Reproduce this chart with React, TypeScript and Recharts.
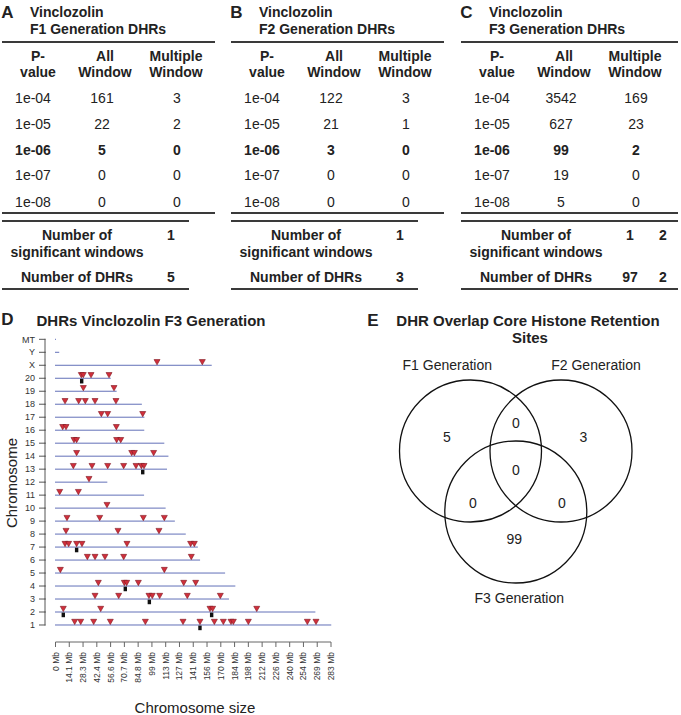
import React from 'react';
import { ScatterChart, Scatter, XAxis, YAxis, ReferenceLine } from 'recharts';

// ---- tables A-C ----
const pValues = ['1e-04', '1e-05', '1e-06', '1e-07', '1e-08'];
const f1All = [161, 22, 5, 0, 0];
const f1Multiple = [3, 2, 0, 0, 0];
const f2All = [122, 21, 3, 0, 0];
const f2Multiple = [3, 1, 0, 0, 0];
const f3All = [3542, 627, 99, 19, 5];
const f3Multiple = [169, 23, 2, 0, 0];
const f1SigWindows = [1];
const f2SigWindows = [1];
const f3SigWindows = [1, 2];
const f1Dhrs = [5];
const f2Dhrs = [3];
const f3Dhrs = [97, 2];

// ---- panel D ----
const chromosomes = ['1', '2', '3', '4', '5', '6', '7', '8', '9', '10', '11', '12', '13', '14', '15', '16', '17', '18', '19', '20', 'X', 'Y', 'MT'];
const chromosomeSizes = [282.76, 266.44, 177.7, 184.23, 173.71, 147.99, 145.73, 133.31, 122.1, 112.63, 90.46, 52.72, 114.03, 115.49, 111.25, 90.67, 90.84, 88.2, 62.28, 56.21, 159.97, 3.31, 0.016];
// DHR sites (Mb), one list per chromosome in the order above
const dhrPositions: number[][] = [
  [19.7, 25.9, 39.2, 56.3, 92.3, 131.0, 148.4, 163.2, 172.4, 180.3, 182.7, 198.1, 258.7, 267.6],
  [8.0, 46.4, 158.7, 161.4, 206.7],
  [40.6, 64.9, 96.0, 99.4, 107.0, 135.4, 169.3],
  [44.0, 70.7, 73.1, 85.1, 131.7, 144.0],
  [5.0, 111.8],
  [32.7, 40.6, 50.8, 70.0, 139.5],
  [9.8, 13.5, 21.7, 27.2, 73.4, 138.8, 142.6],
  [10.8, 64.2, 106.3],
  [11.8, 45.4, 90.2, 111.8],
  [52.9],
  [4.3, 23.5],
  [34.4],
  [18.3, 37.5, 53.6, 70.0, 82.7, 88.2, 90.9],
  [21.7, 78.3, 81.0, 100.8],
  [19.0, 21.7, 62.8, 67.0],
  [7.4, 10.8, 62.5],
  [47.1, 53.6, 89.6],
  [9.8, 23.8, 30.6, 40.6, 62.1],
  [28.6, 60.1],
  [26.5, 28.5, 36.5, 55.0],
  [104.3, 150.8],
  [],
  [],
];
// multiple-window DHRs: chromosome number, position (Mb)
const multiChrom = [20, 13, 7, 4, 3, 2, 2, 1];
const multiPos = [26.9, 89.6, 21.7, 71.7, 96.4, 8.0, 160.4, 148.4];
const xTicks = [0, 14.15, 28.3, 42.45, 56.6, 70.75, 84.9, 99.05, 113.2, 127.35, 141.5, 155.65, 169.8, 183.95, 198.1, 212.25, 226.4, 240.55, 254.7, 268.85, 283];
const xTickLabels = ['0 Mb', '14.1 Mb', '28.3 Mb', '42.4 Mb', '56.6 Mb', '70.7 Mb', '84.8 Mb', '99 Mb', '113 Mb', '127 Mb', '141 Mb', '156 Mb', '170 Mb', '184 Mb', '198 Mb', '212 Mb', '226 Mb', '240 Mb', '254 Mb', '269 Mb', '283 Mb'];
const yTicks = chromosomes.map((_, i) => i + 1);

// ---- panel E ----
const vennSets = ['F1 Generation', 'F2 Generation', 'F3 Generation'];
// F1 only, F2 only, F3 only, F1&F2, F1&F3, F2&F3, all three
const vennCounts = [5, 3, 99, 0, 0, 0, 0];

// venn layout (px offsets from diagram centre)
const circleCenters = [[-45.3, -20], [45.2, -20], [0, 41]];
const setLabelPos = [[-68.5, -106], [80.2, -106], [3.5, 127.3]];
const countPos = [[-69, -33.7], [67.5, -33.7], [-1.5, 68.3], [0.2, -47.7], [-43, 31.7], [46, 31.7], [0.2, -1]];
const vennRadius = 71;

const FONT = '"Liberation Sans", Arial, sans-serif';
const INK = '#222';
const ROW_PX = 302.7 / 23.31; // px between chromosome rows, matches the y domain below

function T({ x, y, children, bold = false, size = 14, anchor = 'middle', color = INK }: any) {
  const tx = anchor === 'middle' ? '-50%' : anchor === 'end' ? '-100%' : '0';
  return (
    <div style={{ position: 'absolute', left: x, top: y, transform: `translate(${tx}, -50%)`, fontSize: size, fontWeight: bold ? 700 : 400, lineHeight: 1, whiteSpace: 'nowrap', color }}>
      {children}
    </div>
  );
}

function Rule({ x, y, w }: any) {
  return <div style={{ position: 'absolute', left: x, top: y, width: w, height: 2, background: '#3a3a3a' }} />;
}

const rowY = [97.5, 123.5, 149.5, 175.3, 201.5];

function DhrTable({ x0, letter, gen, all, multi, sig, dhrs }: any) {
  const wide = sig.length > 1;
  const sumW = wide ? 217 : 187;
  return (
    <>
      <T x={x0 + 7.5} y={12} size={17} bold>{letter}</T>
      <T x={x0 + 30} y={12.3} anchor="start" bold>Vinclozolin</T>
      <T x={x0 + 30} y={29.3} anchor="start" bold>{gen} Generation DHRs</T>
      <Rule x={x0 + 2} y={40.7} w={wide ? 217 : 213} />
      <T x={x0 + 38} y={56} bold>P-</T>
      <T x={x0 + 38} y={71.7} bold>value</T>
      <T x={x0 + 105} y={56} bold>All</T>
      <T x={x0 + 105} y={71.7} bold>Window</T>
      <T x={x0 + 176} y={56} bold>Multiple</T>
      <T x={x0 + 176} y={71.7} bold>Window</T>
      {pValues.map((p, i) => (
        <React.Fragment key={p}>
          <T x={x0 + 33} y={rowY[i]} bold={i === 2}>{p}</T>
          <T x={x0 + 102} y={rowY[i]} bold={i === 2}>{all[i]}</T>
          <T x={x0 + 177} y={rowY[i]} bold={i === 2}>{multi[i]}</T>
        </React.Fragment>
      ))}
      <Rule x={x0 + 2} y={212.3} w={wide ? 217 : 213} />
      <Rule x={x0 + 2} y={220} w={sumW} />
      <T x={x0 + 77} y={235} bold>Number of</T>
      <T x={x0 + 77} y={251.7} bold>significant windows</T>
      {sig.map((v: number, i: number) => <T key={i} x={x0 + 171 + i * 33} y={235} bold>{v}</T>)}
      <T x={x0 + 77} y={277.3} bold>Number of DHRs</T>
      {dhrs.map((v: number, i: number) => <T key={i} x={x0 + 171 + i * 33} y={277.3} bold>{v}</T>)}
      <Rule x={x0 + 2} y={288.3} w={sumW} />
    </>
  );
}

const Triangle = (p: any) => (
  <path d={`M${p.cx - 3},${p.cy - 5.7}L${p.cx + 3},${p.cy - 5.7}L${p.cx},${p.cy - 0.4}Z`} fill="#d02f3b" stroke="#7d1520" strokeWidth={0.6} />
);
const Square = (p: any) => <rect x={p.cx - 1.7} y={p.cy + 0.6} width={3.4} height={4.6} fill="#111" />;

const renderXTick = (p: any) => {
  const ty = p.y + 3;
  return (
    <text x={p.x} y={ty} dy={3} transform={`rotate(-90 ${p.x} ${ty})`} textAnchor="end" fontSize={8.5} fill="#333">
      {xTickLabels[p.index]}
    </text>
  );
};

// R-style y axis: each tick draws its mark and the piece of axis line up to the next row
const renderYTick = (p: any) => (
  <g>
    <line x1={39} x2={45.5} y1={p.y} y2={p.y} stroke="#555" />
    {p.payload.value < chromosomes.length && (
      <line x1={45} x2={45} y1={p.y + 0.5} y2={p.y - ROW_PX - 0.5} stroke="#555" />
    )}
    <text x={35} y={p.y} dy={3.2} textAnchor="end" fontSize={9} fill="#333">{chromosomes[p.payload.value - 1]}</text>
  </g>
);

const VennCircle = (p: any) => <circle cx={p.cx} cy={p.cy} r={vennRadius} fill="none" stroke="#111" strokeWidth={1.3} />;
const VennText = (p: any) => (
  <text x={p.cx} y={p.cy} dy={5} textAnchor="middle" fontSize={14} fill={INK}>{p.payload.text}</text>
);

export default function App() {
  const dhrPoints = dhrPositions.flatMap((arr, i) => arr.map((x) => ({ x, y: i + 1 })));
  const multiPoints = multiPos.map((x, i) => ({ x, y: multiChrom[i] }));
  const circles = vennSets.map((s, i) => ({ x: circleCenters[i][0], y: circleCenters[i][1], text: s }));
  const setLabels = vennSets.map((s, i) => ({ x: setLabelPos[i][0], y: setLabelPos[i][1], text: s }));
  const counts = vennCounts.map((c, i) => ({ x: countPos[i][0], y: countPos[i][1], text: String(c) }));

  return (
    <div style={{ position: 'absolute', left: 0, top: 0, width: 681, height: 715, background: '#fff', fontFamily: FONT, color: INK }}>
      <DhrTable x0={0} letter="A" gen="F1" all={f1All} multi={f1Multiple} sig={f1SigWindows} dhrs={f1Dhrs} />
      <DhrTable x0={229} letter="B" gen="F2" all={f2All} multi={f2Multiple} sig={f2SigWindows} dhrs={f2Dhrs} />
      <DhrTable x0={459} letter="C" gen="F3" all={f3All} multi={f3Multiple} sig={f3SigWindows} dhrs={f3Dhrs} />

      <T x={7.5} y={319} size={17} bold>D</T>
      <T x={151} y={320} size={15} bold>DHRs Vinclozolin F3 Generation</T>
      <T x={373} y={320} size={17} bold>E</T>
      <T x={528} y={320} size={15} bold>DHR Overlap Core Histone Retention</T>
      <T x={530} y={337} size={15} bold>Sites</T>

      <div style={{ position: 'absolute', left: 0, top: 300 }}>
        <ScatterChart width={345} height={415} margin={{ top: 39.3, right: 14, bottom: 0, left: 0 }}>
          <XAxis
            dataKey="x"
            type="number"
            domain={[0, 283]}
            ticks={xTicks}
            interval={0}
            height={73}
            tickSize={5}
            stroke="#666"
            tick={renderXTick}
            allowDataOverflow
            label={{
              content: () => (
                <text x={195} y={413} textAnchor="middle" fontSize={15} fill={INK}>Chromosome size</text>
              ),
            }}
          />
          <YAxis
            dataKey="y"
            type="number"
            domain={[-0.31, 23]}
            ticks={yTicks}
            interval={0}
            width={55.5}
            axisLine={false}
            tickLine={false}
            tick={renderYTick}
            allowDataOverflow
            label={{
              content: () => (
                <text x={16.5} y={183} transform="rotate(-90 16.5 183)" textAnchor="middle" fontSize={15} fill={INK}>Chromosome</text>
              ),
            }}
          />
          {chromosomeSizes.map((len, i) => (
            <ReferenceLine
              key={chromosomes[i]}
              segment={[{ x: 0, y: i + 1 }, { x: len, y: i + 1 }]}
              stroke="#6270b8"
              strokeWidth={1}
              strokeLinecap="square"
              ifOverflow="visible"
            />
          ))}
          <Scatter data={multiPoints} shape={Square} isAnimationActive={false} />
          <Scatter data={dhrPoints} shape={Triangle} isAnimationActive={false} />
        </ScatterChart>
      </div>

      <div style={{ position: 'absolute', left: 360, top: 300 }}>
        <ScatterChart width={321} height={320} margin={{ top: 0, right: 0, bottom: 0, left: 0 }}>
          <XAxis dataKey="x" type="number" domain={[-155.8, 165.2]} hide allowDataOverflow />
          <YAxis dataKey="y" type="number" domain={[-171, 149]} reversed hide allowDataOverflow />
          <Scatter data={circles} shape={VennCircle} isAnimationActive={false} />
          <Scatter data={setLabels} shape={VennText} isAnimationActive={false} />
          <Scatter data={counts} shape={VennText} isAnimationActive={false} />
        </ScatterChart>
      </div>
    </div>
  );
}
